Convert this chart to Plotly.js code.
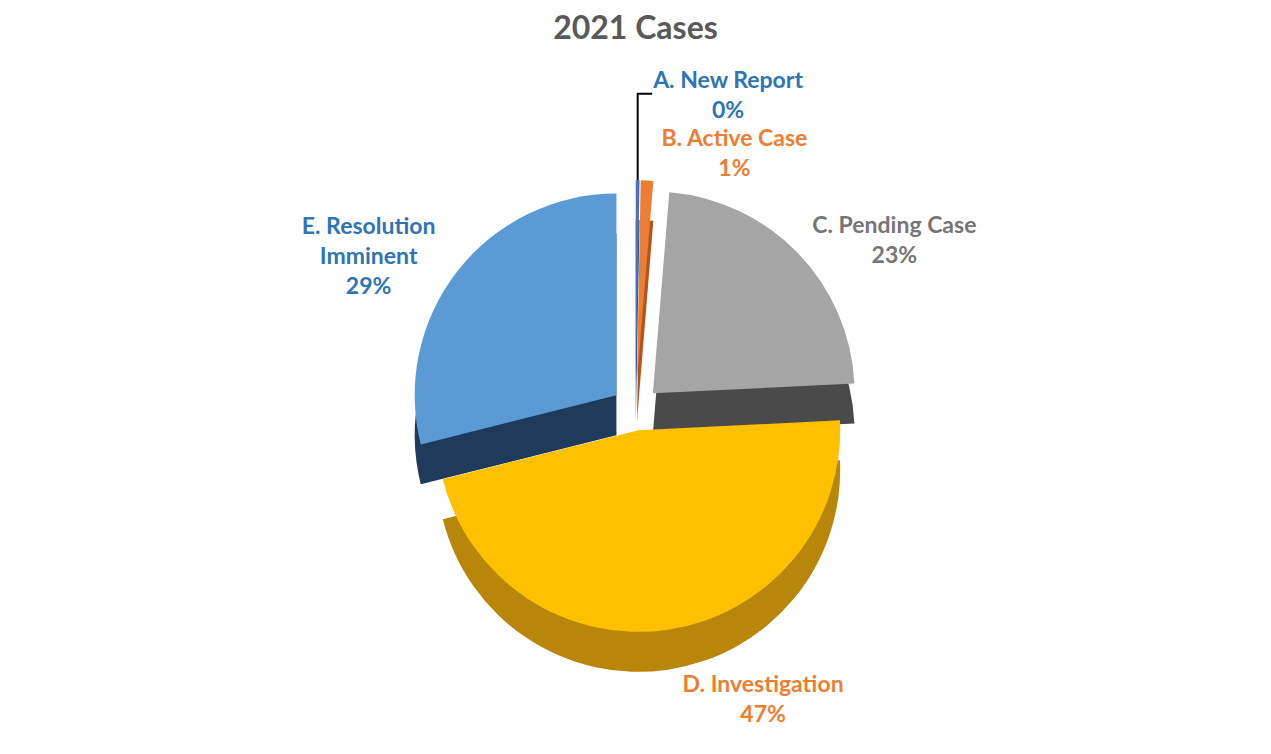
<!DOCTYPE html>
<html>
<head>
<meta charset="utf-8">
<script src="https://cdn.plot.ly/plotly-3.0.1.min.js"></script>
<style>html,body{margin:0;padding:0;background:#fff;}#chart{width:1271px;height:754px;}</style>
</head>
<body>
<div id="chart"></div>
<script>
const categories = ["A. New Report", "B. Active Case", "C. Pending Case", "D. Investigation", "E. Resolution<br>Imminent"];
const values = [0.3, 1, 23, 47, 29];
const sliceColors = ["#4472C4", "#ED7D31", "#A5A5A5", "#FFC000", "#5B9BD5"];
const sideColors = ["#2F4F8A", "#B0561C", "#4A4A4A", "#B8860B", "#1F3B5C"];
const labelColors = ["#2E75B6", "#ED7D31", "#767676", "#ED7D31", "#2E75B6"];
const pulls = [0.14, 0.14, 0.12, 0.1, 0.12];

const labelTpl = "%{label}<br>%{percent:.0%}";
const fontFam = "Lato, 'Open Sans', sans-serif";

const common = {
  type: "pie",
  labels: categories,
  values: values,
  sort: false,
  direction: "clockwise",
  rotation: 0,
  pull: pulls,
  textinfo: "none",
  hoverinfo: "label+percent",
  showlegend: false
};

// darker copy shifted down: the visible "thickness" of the 3D slices (carries the D label)
const sideTrace = Object.assign({}, common, {
  marker: {colors: sideColors, line: {width: 0}},
  texttemplate: ["", "", "", labelTpl, ""],
  textposition: ["none", "none", "none", "outside", "none"],
  outsidetextfont: {family: fontFam, size: 23, color: labelColors, weight: "bold"},
  domain: {x: [0.2, 0.8], y: [0.098, 0.708]}
});

// top faces of the slices
const topTrace = Object.assign({}, common, {
  marker: {colors: sliceColors, line: {width: 0}},
  texttemplate: [labelTpl, labelTpl, labelTpl, "", labelTpl],
  textposition: ["outside", "outside", "outside", "none", "outside"],
  outsidetextfont: {family: fontFam, size: 23, color: labelColors, weight: "bold"},
  domain: {x: [0.2, 0.8], y: [0.151, 0.761]}
});

const layout = {
  width: 1271,
  height: 754,
  margin: {l: 0, r: 0, t: 0, b: 0},
  paper_bgcolor: "#ffffff",
  title: {
    text: "<b>2021 Cases</b>",
    x: 0.5,
    xanchor: "center",
    yref: "container",
    y: 0.963,
    yanchor: "middle",
    font: {family: fontFam, size: 32, color: "#595959"}
  }
};

Plotly.newPlot("chart", [sideTrace, topTrace], layout, {displayModeBar: false, staticPlot: true});
</script>
</body>
</html>
